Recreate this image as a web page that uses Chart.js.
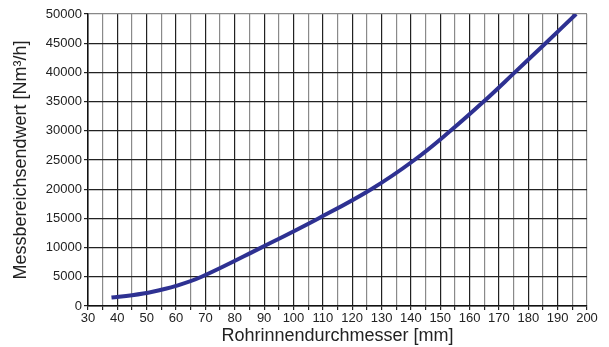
<!DOCTYPE html>
<html>
<head>
<meta charset="utf-8">
<script src="https://cdn.jsdelivr.net/npm/chart.js@4.4.1/dist/chart.umd.min.js"></script>
<style>
  html, body { margin: 0; padding: 0; background: #fff; }
  #wrap { width: 609px; height: 347px; }
</style>
</head>
<body>
<div id="wrap"><canvas id="flowChart" width="609" height="347"></canvas></div>
<script>
// Rohrinnendurchmesser [mm] vs. Messbereichsendwert [Nm³/h]
const diameters = [38, 45, 52, 60, 68.7, 89, 108.5, 126.5, 141.2, 153.5, 164.8, 175.4, 185.9, 196.3];
const flowValues = [1450, 1850, 2450, 3450, 5000, 10000, 15000, 20000, 25000, 30000, 35000, 40000, 45000, 50000];

const xMin = 30, xMax = 200, xStep = 5;
const yMin = 0, yMax = 50000, yStep = 5000;

const points = diameters.map((d, i) => ({ x: d, y: flowValues[i] }));

const FONT = "'Liberation Sans', Arial, Helvetica, sans-serif";

new Chart(document.getElementById('flowChart'), {
    type: 'line',
    data: {
        datasets: [{
            data: points,
            borderColor: '#2e3192',
            borderWidth: 4,
            pointRadius: 0,
            tension: 0.4,
            fill: false
        }]
    },
    options: {
        responsive: false,
        animation: false,
        layout: { padding: { top: 14, right: 22, left: 0, bottom: 0 } },
        plugins: {
            legend: { display: false },
            tooltip: { enabled: false }
        },
        scales: {
            x: {
                type: 'linear',
                min: xMin,
                max: xMax,
                afterFit: (scale) => { scale.height = 41; },
                ticks: {
                    stepSize: xStep,
                    autoSkip: false,
                    maxRotation: 0,
                    color: '#222',
                    font: { family: FONT, size: 13 },
                    padding: 1,
                    callback: (v) => (v % 10 === 0 ? String(v) : '')
                },
                grid: {
                    color: (ctx) => {
                        const v = ctx.tick ? ctx.tick.value : 0;
                        if (v === xMax) return '#888';
                        return v % 10 === 0 ? '#222' : '#8a8a8a';
                    },
                    lineWidth: 1.2,
                    tickColor: '#222',
                    tickLength: 4
                },
                border: { color: '#111', width: 1.5 },
                title: {
                    display: true,
                    text: 'Rohrinnendurchmesser [mm]',
                    color: '#222',
                    font: { family: FONT, size: 18 },
                    padding: { top: 0, bottom: 0 }
                }
            },
            y: {
                min: yMin,
                max: yMax,
                afterFit: (scale) => { scale.width = 88; },
                ticks: {
                    stepSize: yStep,
                    color: '#222',
                    font: { family: FONT, size: 13 },
                    padding: 2,
                    callback: (v) => String(v)
                },
                grid: {
                    color: (ctx) => {
                        const v = ctx.tick ? ctx.tick.value : 0;
                        return v === yMax ? '#888' : '#222';
                    },
                    lineWidth: 1.2,
                    tickColor: '#222',
                    tickLength: 4
                },
                border: { color: '#111', width: 1.5 },
                title: {
                    display: true,
                    text: 'Messbereichsendwert [Nm³/h]',
                    color: '#222',
                    font: { family: FONT, size: 18 },
                    padding: { top: 10, bottom: 0 }
                }
            }
        }
    }
});
</script>
</body>
</html>
